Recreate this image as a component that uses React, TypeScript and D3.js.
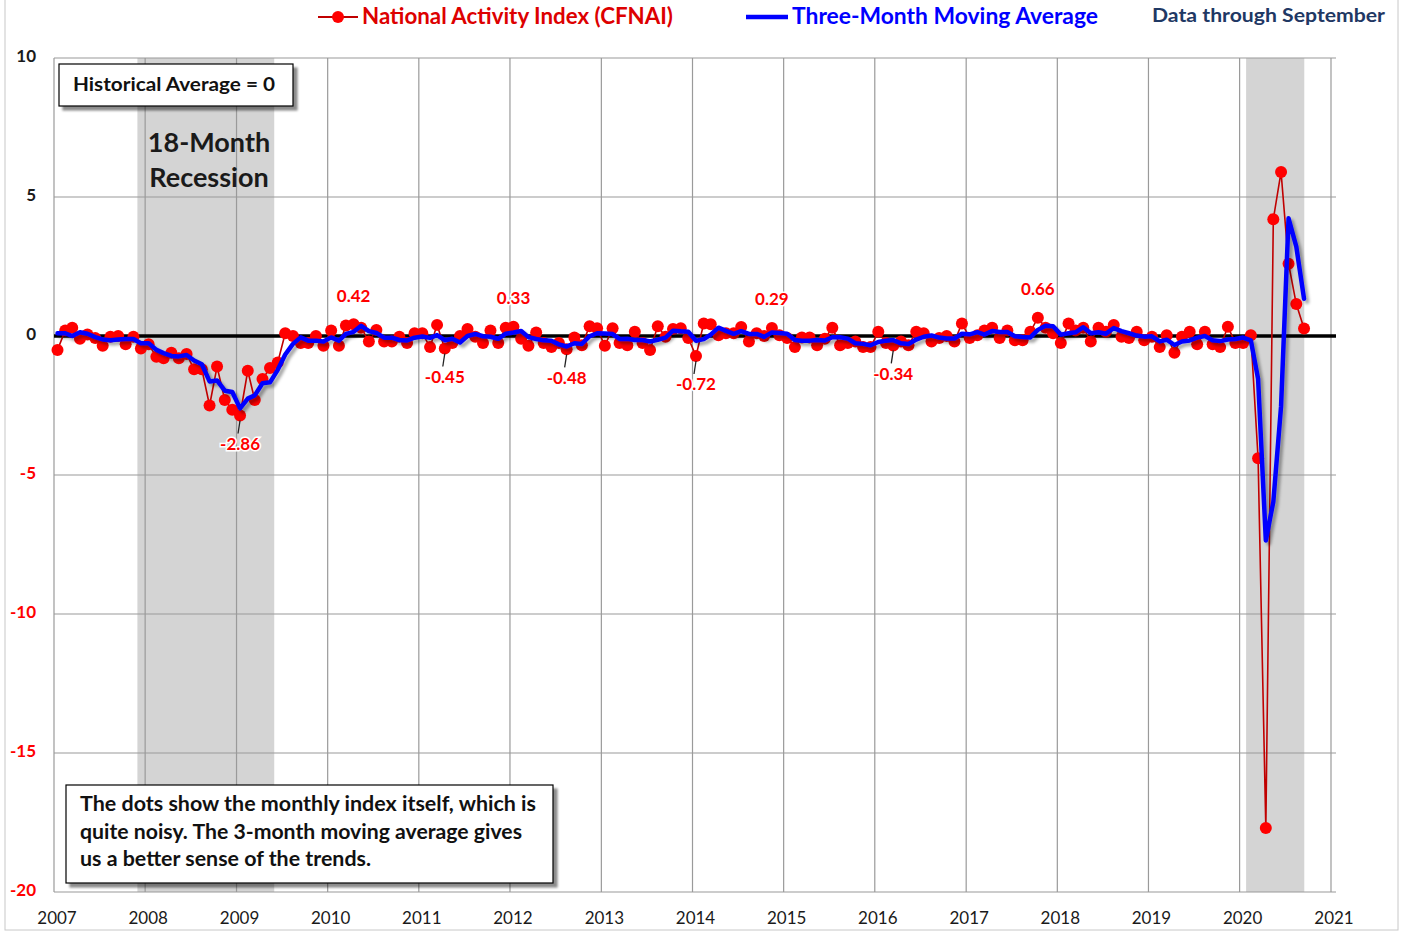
import React from "react";
import * as d3 from "d3";

// CFNAI monthly readings. Nov/Dec 2006 only feed the moving average.
const cfnai2006 = [0.2, 0.6];
const cfnai2007 = [-0.5, 0.2, 0.3, -0.1, 0.05, -0.07, -0.35, -0.03, 0.0, -0.3, -0.03, -0.45];
const cfnai2008 = [-0.3, -0.75, -0.8, -0.6, -0.8, -0.65, -1.2, -1.2, -2.5, -1.1, -2.3, -2.65];
const cfnai2009 = [-2.86, -1.25, -2.3, -1.55, -1.15, -0.95, 0.1, 0.0, -0.25, -0.25, 0.0, -0.35];
const cfnai2010 = [0.2, -0.35, 0.38, 0.42, 0.3, -0.2, 0.22, -0.2, -0.2, -0.03, -0.25, 0.1];
const cfnai2011 = [0.1, -0.4, 0.4, -0.45, -0.25, 0.0, 0.25, -0.03, -0.25, 0.2, -0.25, 0.3];
const cfnai2012 = [0.33, -0.1, -0.35, 0.13, -0.25, -0.4, -0.25, -0.48, -0.05, -0.33, 0.35, 0.28];
const cfnai2013 = [-0.35, 0.28, -0.25, -0.33, 0.15, -0.25, -0.5, 0.35, -0.03, 0.25, 0.28, -0.07];
const cfnai2014 = [-0.72, 0.45, 0.42, 0.03, 0.1, 0.1, 0.32, -0.2, 0.1, 0.0, 0.29, 0.03];
const cfnai2015 = [-0.07, -0.4, -0.05, -0.05, -0.33, -0.1, 0.3, -0.33, -0.25, -0.2, -0.4, -0.4];
const cfnai2016 = [0.15, -0.25, -0.34, -0.2, -0.33, 0.15, 0.1, -0.2, -0.07, 0.0, -0.2, 0.45];
const cfnai2017 = [-0.07, 0.03, 0.2, 0.3, -0.07, 0.2, -0.15, -0.15, 0.15, 0.66, 0.3, 0.1];
const cfnai2018 = [-0.25, 0.45, 0.2, 0.3, -0.2, 0.3, 0.15, 0.4, -0.03, -0.07, 0.15, -0.15];
const cfnai2019 = [-0.03, -0.4, 0.03, -0.6, -0.03, 0.15, -0.3, 0.15, -0.3, -0.4, 0.33, -0.25];
const cfnai2020 = [-0.25, 0.03, -4.4, -17.7, 4.2, 5.9, 2.6, 1.15, 0.27];

const yearlyValues = [
  cfnai2007, cfnai2008, cfnai2009, cfnai2010, cfnai2011, cfnai2012, cfnai2013,
  cfnai2014, cfnai2015, cfnai2016, cfnai2017, cfnai2018, cfnai2019, cfnai2020,
];

const yTicks = [10, 5, 0, -5, -10, -15, -20];
const yearTicks = d3.range(2007, 2022);

// labelled extremes: [year, month index]
const labelled = [[2009, 0], [2010, 3], [2011, 3], [2012, 0], [2012, 7], [2014, 0], [2014, 10], [2016, 2], [2017, 9]];

const recessions = [
  [new Date(2007, 11, 1), new Date(2009, 5, 1)],
  [new Date(2020, 0, 27), new Date(2020, 8, 16)],
];

const noteLines = [
  "The dots show the monthly  index itself, which is",
  "quite noisy. The 3-month moving average gives",
  "us a better sense of the trends.",
];
const noteWidths = [456, 442, 291];

type Pt = { date: Date; value: number };

// build monthly series
const series: Pt[] = [];
cfnai2006.forEach((v, i) => series.push({ date: new Date(2006, 10 + i, 15), value: v }));
yearlyValues.forEach((arr, yi) =>
  arr.forEach((v, m) => series.push({ date: new Date(2007 + yi, m, 15), value: v }))
);

// three-month moving average
const ma: Pt[] = series
  .map((d, i) => (i < 2 ? null : { date: d.date, value: d3.mean(series.slice(i - 2, i + 1), (s) => s.value) as number }))
  .filter((d): d is Pt => d !== null);

const dots = series.filter((d) => d.date.getFullYear() >= 2007);

const FONT = "Lato, 'Open Sans', sans-serif";

const App = () => {
  const width = 1407;
  const height = 933;
  const left = 54;
  const right = 1336;

  const x = d3.scaleTime().domain([new Date(2007, 0, 1), new Date(2021, 0, 1)]).range([left, 1331]);
  const y = d3.scaleLinear().domain([-20, 10]).range([892, 58]);

  const line = d3.line<Pt>().x((d) => x(d.date)).y((d) => y(d.value));

  const findPt = (yr: number, m: number) => dots.find((d) => d.date.getFullYear() === yr && d.date.getMonth() === m)!;

  return (
    <svg width={width} height={height} style={{ position: "absolute", left: 0, top: 0, background: "#fff" }}>
      <defs>
        <filter id="shadow" x="-10%" y="-10%" width="130%" height="130%">
          <feDropShadow dx="3" dy="3" stdDeviation="1.5" floodColor="#000" floodOpacity="0.35" />
        </filter>
        <filter id="boxshadow" x="-10%" y="-10%" width="130%" height="140%">
          <feDropShadow dx="4" dy="4" stdDeviation="1.2" floodColor="#000" floodOpacity="0.45" />
        </filter>
      </defs>

      <rect x={5} y={-5} width={1393} height={935} fill="#fff" stroke="#c8c8c8" />

      {/* recession shading */}
      {recessions.map(([a, b], i) => (
        <rect key={i} x={x(a)} y={y(10)} width={x(b) - x(a)} height={y(-20) - y(10)} fill="#d4d4d4" />
      ))}

      {/* grid */}
      {yearTicks.map((yr) => (
        <line key={yr} x1={x(new Date(yr, 0, 1))} x2={x(new Date(yr, 0, 1))} y1={y(10)} y2={y(-20)} stroke="#9a9a9a" strokeWidth={1.2} />
      ))}
      {yTicks.filter((t) => t !== 0).map((t) => (
        <line key={t} x1={left} x2={right} y1={y(t)} y2={y(t)} stroke="#9a9a9a" strokeWidth={1.2} />
      ))}
      <line x1={left} x2={right} y1={y(0)} y2={y(0)} stroke="#000" strokeWidth={3.5} />

      {/* y labels */}
      {yTicks.map((t) => (
        <text key={t} x={36} y={y(t)} textAnchor="end" dominantBaseline="middle" fontFamily={FONT} fontSize={17} fontWeight="bold" fill={t < 0 ? "#ff0000" : "#1a1a1a"}>
          {t}
        </text>
      ))}
      {/* x labels */}
      {yearTicks.map((yr) => (
        <text key={yr} x={x(new Date(yr, 0, 1)) + 3} y={920} textAnchor="middle" dominantBaseline="middle" fontFamily={FONT} fontSize={17} fill="#1a1a1a">
          {yr}
        </text>
      ))}

      {/* monthly index */}
      <path d={line(dots) || ""} fill="none" stroke="#c00000" strokeWidth={1.6} />
      {dots.map((d, i) => (
        <circle key={i} cx={x(d.date)} cy={y(d.value)} r={6} fill="#ff0000" />
      ))}

      {/* moving average */}
      <path d={line(ma.filter((d) => d.date.getFullYear() >= 2007)) || ""} fill="none" stroke="#0000ff" strokeWidth={4.5} strokeLinejoin="round" strokeLinecap="round" filter="url(#shadow)" />

      {/* value labels */}
      {labelled.map(([yr, m]) => {
        const p = findPt(yr, m);
        const px = x(p.date);
        const py = y(p.value);
        const neg = p.value < 0;
        const ly = neg ? py + 30 : py - 27;
        return (
          <g key={`${yr}-${m}`}>
            {neg && <line x1={px} y1={py + 5} x2={px - 2} y2={py + 18} stroke="#222" strokeWidth={1.3} />}
            <text x={px} y={ly} textAnchor="middle" dominantBaseline="middle" fontFamily={FONT} fontSize={17} fontWeight="bold" fill="#ff0000" stroke="#fff" strokeWidth={3} paintOrder="stroke">
              {p.value.toFixed(2)}
            </text>
          </g>
        );
      })}

      {/* legend */}
      <line x1={318} x2={358} y1={17} y2={17} stroke="#c00000" strokeWidth={2} />
      <circle cx={338} cy={17} r={6} fill="#ff0000" />
      <text x={362} y={18} dominantBaseline="middle" fontFamily={FONT} fontSize={22} fontWeight="bold" fill="#dd0000" textLength={311} lengthAdjust="spacingAndGlyphs">
        National Activity Index (CFNAI)
      </text>
      <line x1={746} x2={788} y1={17} y2={17} stroke="#0000ff" strokeWidth={4.5} />
      <text x={792} y={18} dominantBaseline="middle" fontFamily={FONT} fontSize={22} fontWeight="bold" fill="#0000ff" textLength={306} lengthAdjust="spacingAndGlyphs">
        Three-Month Moving Average
      </text>
      <text x={1152} y={22} fontFamily={FONT} fontSize={18} fontWeight="bold" fill="#1f3864" textLength={233} lengthAdjust="spacingAndGlyphs">
        Data through September
      </text>

      {/* historical average box */}
      <rect x={59} y={64} width={234} height={42} fill="#fff" stroke="#000" strokeWidth={1.2} filter="url(#boxshadow)" />
      <text x={73} y={86} dominantBaseline="middle" fontFamily={FONT} fontSize={19} fontWeight="bold" fill="#111" textLength={202} lengthAdjust="spacingAndGlyphs">
        Historical Average = 0
      </text>

      {/* recession label */}
      <text x={209} y={145} textAnchor="middle" dominantBaseline="middle" fontFamily={FONT} fontSize={27} fontWeight="bold" fill="#1a1a1a">
        18-Month
      </text>
      <text x={209} y={180} textAnchor="middle" dominantBaseline="middle" fontFamily={FONT} fontSize={27} fontWeight="bold" fill="#1a1a1a">
        Recession
      </text>

      {/* note box */}
      <rect x={66} y={785} width={487} height={98} fill="#fff" stroke="#000" strokeWidth={1.2} filter="url(#boxshadow)" />
      {noteLines.map((t, i) => (
        <text key={i} x={80} y={806 + i * 27.5} dominantBaseline="middle" fontFamily={FONT} fontSize={20} fontWeight="bold" fill="#111" textLength={noteWidths[i]} lengthAdjust="spacingAndGlyphs">
          {t}
        </text>
      ))}
    </svg>
  );
};

export default App;
